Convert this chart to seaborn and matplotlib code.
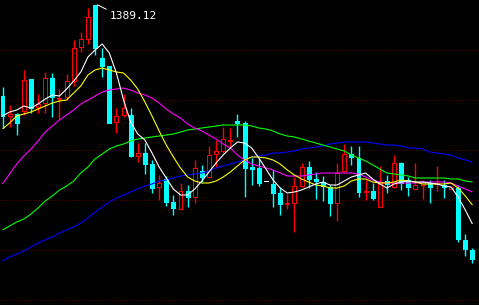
import numpy as np
import pandas as pd
import matplotlib
matplotlib.use("Agg")
import matplotlib.pyplot as plt
import seaborn as sns

# ---------------- data ----------------
opens = [1298, 1278, 1280, 1283, 1315, 1287, 1291, 1316, 1295, 1297,
         1313, 1347, 1355, 1389, 1336, 1328, 1272, 1279, 1279, 1238,
         1241, 1230, 1207, 1215, 1192, 1185, 1203, 1197, 1223, 1217,
         1240, 1243, 1253, 1273, 1271, 1227, 1226, 1213, 1210, 1201,
         1190, 1191, 1208, 1227, 1215, 1212, 1207, 1191, 1223, 1240,
         1236, 1202, 1203, 1187, 1213, 1207, 1231, 1214, 1205, 1209,
         1211, 1210, 1209, 1205, 1206, 1154, 1144]
closes = [1278, 1280, 1271, 1314, 1286, 1290, 1316, 1297, 1296, 1313,
          1346, 1355, 1377, 1346, 1328, 1271, 1278, 1286, 1238, 1241,
          1230, 1206, 1211, 1192, 1186, 1203, 1197, 1226, 1217, 1239,
          1243, 1255, 1254, 1271, 1226, 1225, 1211, 1213, 1201, 1190,
          1191, 1208, 1227, 1215, 1213, 1208, 1191, 1221, 1240, 1237,
          1202, 1203, 1196, 1212, 1210, 1231, 1211, 1207, 1209, 1212,
          1207, 1211, 1207, 1207, 1155, 1145, 1135]
highs = [1307, 1289, 1281, 1324, 1315, 1300, 1322, 1321, 1305, 1320,
         1354, 1362, 1386, 1389.12, 1346, 1328, 1286, 1300, 1286, 1251,
         1251, 1234, 1219, 1218, 1199, 1211, 1209, 1234, 1229, 1248,
         1254, 1267, 1266, 1280, 1273, 1236, 1236, 1213, 1224, 1207,
         1200, 1217, 1231, 1233, 1222, 1218, 1209, 1231, 1250, 1248,
         1248, 1214, 1211, 1228, 1219, 1239, 1232, 1217, 1231, 1214,
         1214, 1228, 1214, 1207, 1209, 1160, 1146]
lows = [1266, 1267, 1259, 1279, 1281, 1281, 1281, 1277, 1275, 1294,
        1308, 1342, 1350, 1339, 1317, 1271, 1261, 1277, 1237, 1232,
        1220, 1201, 1194, 1188, 1179, 1184, 1187, 1191, 1212, 1216,
        1227, 1241, 1247, 1257, 1197, 1209, 1208, 1213, 1187, 1179,
        1185, 1162, 1207, 1206, 1195, 1193, 1178, 1173, 1222, 1229,
        1197, 1194, 1194, 1187, 1201, 1206, 1204, 1198, 1205, 1195,
        1191, 1203, 1196, 1205, 1152, 1138, 1131]

ma5 = [1278, 1282, 1284, 1288, 1286, 1290, 1295, 1299, 1298, 1305,
       1313, 1322, 1337, 1344, 1350, 1341, 1321, 1294, 1272, 1260,
       1254, 1241, 1227, 1216, 1205, 1199, 1199, 1205, 1213, 1222,
       1231, 1239, 1246, 1252, 1251, 1246, 1236, 1225, 1214, 1206,
       1201, 1202, 1204, 1207, 1210, 1212, 1209, 1209, 1213, 1217,
       1219, 1221, 1215, 1210, 1206, 1210, 1212, 1213, 1212, 1212,
       1211, 1210, 1208, 1207, 1197, 1184, 1170]
ma10 = [1265, 1271, 1278, 1280, 1282, 1285, 1288, 1291, 1293, 1294,
        1301, 1308, 1319, 1324, 1326, 1324, 1322, 1321, 1314, 1305,
        1292, 1278, 1263, 1249, 1237, 1226, 1217, 1213, 1211, 1211,
        1213, 1217, 1222, 1228, 1234, 1237, 1237, 1236, 1234, 1230,
        1224, 1219, 1215, 1212, 1209, 1208, 1206, 1206, 1208, 1213,
        1215, 1215, 1212, 1211, 1211, 1212, 1214, 1213, 1212, 1210,
        1210, 1210, 1210, 1211, 1206, 1198, 1189]
ma20 = [1210, 1220, 1230, 1238, 1245, 1253, 1262, 1268, 1274, 1279,
        1284, 1290, 1294, 1298, 1302, 1304, 1305, 1306, 1304, 1301,
        1299, 1296, 1291, 1285, 1280, 1276, 1270, 1266, 1263, 1259,
        1255, 1250, 1246, 1239, 1234, 1230, 1228, 1226, 1224, 1221,
        1218, 1218, 1218, 1219, 1220, 1221, 1221, 1221, 1221, 1221,
        1220, 1217, 1214, 1212, 1211, 1211, 1211, 1211, 1211, 1212,
        1212, 1212, 1212, 1211, 1208, 1205, 1202]
ma30 = [1164, 1168, 1172, 1175, 1180, 1186, 1193, 1198, 1204, 1208,
        1213, 1221, 1227, 1235, 1240, 1245, 1248, 1250, 1253, 1255,
        1256, 1257, 1258, 1259, 1260, 1262, 1264, 1265, 1266, 1267,
        1268, 1269, 1269, 1269, 1269, 1268, 1266, 1265, 1263, 1260,
        1258, 1257, 1255, 1253, 1251, 1249, 1247, 1245, 1243, 1239,
        1236, 1233, 1229, 1225, 1221, 1220, 1219, 1218, 1216, 1216,
        1216, 1216, 1216, 1215, 1215, 1213, 1212]
ma60 = [1133, 1137, 1140, 1143, 1147, 1151, 1154, 1157, 1161, 1164,
        1167, 1171, 1176, 1182, 1187, 1192, 1196, 1199, 1202, 1205,
        1208, 1210, 1213, 1214, 1216, 1218, 1219, 1220, 1221, 1223,
        1226, 1228, 1230, 1232, 1234, 1237, 1238, 1239, 1241, 1241,
        1242, 1243, 1245, 1246, 1247, 1248, 1250, 1251, 1252, 1252,
        1252, 1252, 1251, 1250, 1249, 1249, 1248, 1246, 1246, 1245,
        1242, 1241, 1240, 1239, 1236, 1234, 1232]

ma_names = ["MA5", "MA10", "MA20", "MA30", "MA60"]
ma_colors = {"MA5": "#ffffff", "MA10": "#ffff00", "MA20": "#ff00ff",
             "MA30": "#00ff00", "MA60": "#0000ff"}

# ---------------- figure ----------------
sns.set_style("dark", {"axes.facecolor": "black", "figure.facecolor": "black"})
plt.rcParams["font.family"] = ["DejaVu Sans Mono", "DejaVu Sans"]
plt.rcParams["lines.solid_capstyle"] = "butt"

W, H = 479, 305
fig = plt.figure(figsize=(W / 100, H / 100), dpi=100, facecolor="black")
ax = fig.add_axes([0, 0, 1, 1])
ax.set_facecolor("black")

n = len(opens)
idx = np.arange(n)
o = np.array(opens, float)
c = np.array(closes, float)
hi = np.array(highs, float)
lo = np.array(lows, float)

RED, CYAN, WHITE = "#ff0000", "#00ffff", "#ffffff"
colors = np.where(c > o, RED, np.where(c < o, CYAN, WHITE))
lw = 0.72  # one pixel

# wicks
ax.vlines(idx, lo, hi, colors=list(colors), linewidth=1.0, zorder=2)

# bodies
bw = 0.56
for i in range(n):
    bottom = min(o[i], c[i])
    height = abs(c[i] - o[i])
    if colors[i] == RED:
        ax.bar(i, height, bottom=bottom, width=bw, facecolor="black",
               edgecolor=RED, linewidth=lw, zorder=3, antialiased=False)
    elif colors[i] == CYAN:
        ax.bar(i, height, bottom=bottom, width=bw, facecolor=CYAN,
               edgecolor=CYAN, linewidth=lw, zorder=3, antialiased=False)
    else:
        ax.hlines(o[i], i - bw / 2, i + bw / 2, colors=WHITE,
                  linewidth=lw, zorder=3, antialiased=False)

# moving averages via seaborn
df = pd.DataFrame({
    "day": np.tile(idx, 5),
    "value": np.concatenate([ma5, ma10, ma20, ma30, ma60]),
    "line": np.repeat(ma_names, n),
})
before = len(ax.lines)
sns.lineplot(data=df, x="day", y="value", hue="line", hue_order=ma_names[::-1],
             palette=ma_colors, legend=False, ax=ax, estimator=None, zorder=5)
for ln in ax.lines[before:]:
    ln.set_linewidth(0.8)
    ln.set_antialiased(True)

# highest price label
imax = int(np.argmax(hi))
ax.annotate(f"{hi[imax]:.2f}", xy=(imax + 0.35, hi[imax]),
            xytext=(12, -6), textcoords="offset pixels",
            ha="left", va="top", color="white", fontsize=8,
            family="DejaVu Sans Mono",
            arrowprops=dict(arrowstyle="-", color="white", lw=lw,
                            shrinkA=0, shrinkB=0, relpos=(0, 1)),
            zorder=6)

# axes / grid
spacing = 7.12
xmin = -2.5 / spacing
ax.set_xlim(xmin, xmin + W / spacing)
ax.set_ylim(1394 - H, 1394)
ax.set_yticks(np.arange(1344, 1394 - H, -50))
ax.set_xticks([])
ax.grid(False)
ax.yaxis.grid(True, color="#6a0000", linestyle=(0, (1, 2)), linewidth=lw)
ax.set_axisbelow(True)
ax.tick_params(left=False, bottom=False, labelleft=False, labelbottom=False)
ax.set_xlabel("")
ax.set_ylabel("")
for s in ax.spines.values():
    s.set_visible(False)

fig.savefig("out.png", dpi=100, facecolor="black")
